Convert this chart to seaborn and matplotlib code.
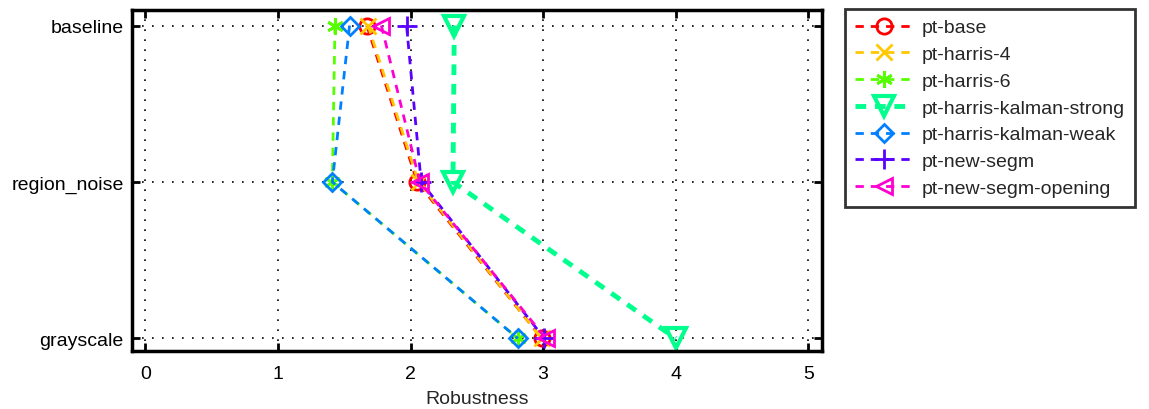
import matplotlib
matplotlib.use("Agg")
import matplotlib.pyplot as plt
import seaborn as sns
import numpy as np

categories = ["baseline", "region_noise", "grayscale"]
series_names = ["pt-base", "pt-harris-4", "pt-harris-6", "pt-harris-kalman-strong",
                "pt-harris-kalman-weak", "pt-new-segm", "pt-new-segm-opening"]
pt_base = [1.67, 2.05, 2.99]
pt_harris_4 = [1.68, 2.06, 2.99]
pt_harris_6 = [1.43, 1.41, 2.81]
pt_harris_kalman_strong = [2.33, 2.32, 4.00]
pt_harris_kalman_weak = [1.54, 1.41, 2.81]
pt_new_segm = [1.97, 2.08, 3.01]
pt_new_segm_opening = [1.78, 2.07, 3.02]
x_ticks = [0, 1, 2, 3, 4, 5]

values = [pt_base, pt_harris_4, pt_harris_6, pt_harris_kalman_strong,
          pt_harris_kalman_weak, pt_new_segm, pt_new_segm_opening]
colors = ["#ff0000", "#ffc800", "#55ff00", "#00ff8c", "#0080ff", "#5a00ff", "#ff00d2"]
markers = ["o", "x", (6, 2, 0), "v", "D", "+", "<"]
msizes = [11, 11, 12, 14, 9, 14, 12]
lws = [2, 2, 2, 3.5, 2, 2, 2]

sns.set_style("white")
plt.rcParams['font.family'] = ['Liberation Sans', 'DejaVu Sans']

fig = plt.figure(figsize=(11.49, 4.10), dpi=100)
ax = fig.add_axes([0.115, 0.1415, 0.600, 0.832])

ypos = [3, 2, 1]
for name, vals, c, m, ms, lw in zip(series_names, values, colors, markers, msizes, lws):
    sns.lineplot(x=vals, y=ypos, ax=ax, sort=False, estimator=None, color=c,
                 linestyle=(0, (3, 2.5)) if lw < 3 else (0, (2.2, 1.8)), linewidth=lw,
                 marker=m, markersize=ms,
                 markerfacecolor="none", markeredgecolor=c, markeredgewidth=2 if lw < 3 else 3,
                 label=name, legend=False)

ax.set_xlim(-0.1, 5.1)
ax.set_ylim(0.92, 3.1)
ax.set_xticks(x_ticks)
ax.set_xticklabels([str(t) for t in x_ticks])
ax.set_yticks(ypos)
ax.set_yticklabels(categories)
ax.set_xlabel("Robustness", fontsize=14, labelpad=6)
ax.grid(True, color="black", linestyle=(0, (1, 5)), linewidth=1.2)
for s in ax.spines.values():
    s.set_linewidth(2.5)
    s.set_color("black")
    s.set_visible(True)
ax.tick_params(direction="in", length=6, width=2, labelsize=14, colors="black",
               top=True, right=True, bottom=True, left=True)
ax.tick_params(axis="x", pad=10)
ax.tick_params(axis="y", pad=6)

leg = ax.legend(loc="upper left", bbox_to_anchor=(0.7354, 0.9756), bbox_transform=fig.transFigure,
                fontsize=14, frameon=True, fancybox=False, edgecolor="black",
                handlelength=3.0, labelspacing=0.47, borderpad=0.5, handletextpad=0.45,
                borderaxespad=0)
leg.get_frame().set_linewidth(2)

fig.savefig("out.png", dpi=100)
